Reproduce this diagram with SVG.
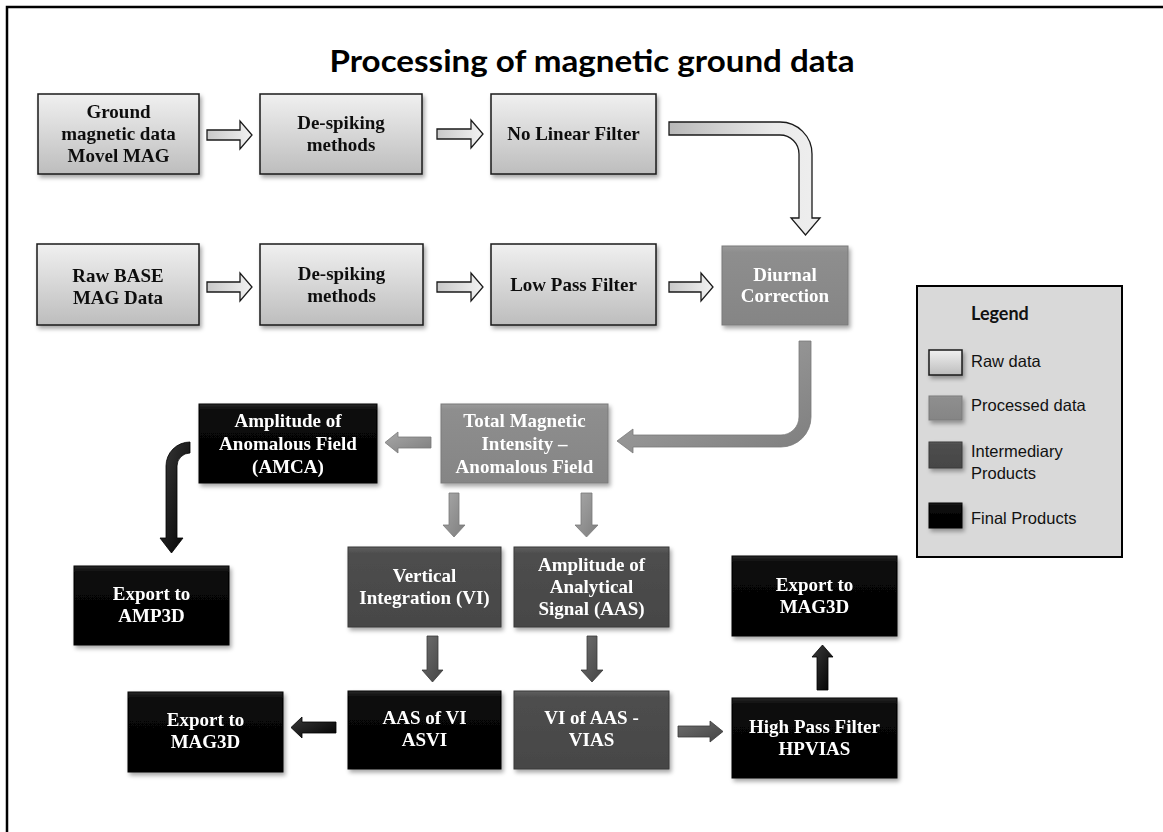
<svg xmlns="http://www.w3.org/2000/svg" width="1163" height="832" viewBox="0 0 1163 832">
<defs>
<linearGradient id="gRaw" x1="0" y1="0" x2="0" y2="1"><stop offset="0" stop-color="#f0f0f0"/><stop offset="1" stop-color="#bdbdbd"/></linearGradient>
<linearGradient id="gProc" x1="0" y1="0" x2="0" y2="1"><stop offset="0" stop-color="#9a9a9a"/><stop offset="0.08" stop-color="#8e8e8e"/><stop offset="1" stop-color="#858585"/></linearGradient>
<linearGradient id="gInter" x1="0" y1="0" x2="0" y2="1"><stop offset="0" stop-color="#606060"/><stop offset="0.08" stop-color="#4e4e4e"/><stop offset="1" stop-color="#464646"/></linearGradient>
<linearGradient id="gFin" x1="0" y1="0" x2="0" y2="1"><stop offset="0" stop-color="#2a2a2a"/><stop offset="0.08" stop-color="#0a0a0a"/><stop offset="1" stop-color="#000"/></linearGradient>
<linearGradient id="gArrRaw" x1="0" y1="0" x2="1" y2="0"><stop offset="0" stop-color="#c8c8c8"/><stop offset="1" stop-color="#f2f2f2"/></linearGradient>
<linearGradient id="gCurve1" x1="0" y1="0" x2="1" y2="0"><stop offset="0" stop-color="#b8b8b8"/><stop offset="0.7" stop-color="#eaeaea"/><stop offset="1" stop-color="#eeeeee"/></linearGradient>
<linearGradient id="gArrProc" x1="0" y1="0" x2="1" y2="1"><stop offset="0" stop-color="#a8a8a8"/><stop offset="1" stop-color="#7e7e7e"/></linearGradient>
<linearGradient id="gArrInter" x1="0" y1="0" x2="1" y2="1"><stop offset="0" stop-color="#6e6e6e"/><stop offset="1" stop-color="#444"/></linearGradient>
<linearGradient id="gArrFin" x1="0" y1="0" x2="1" y2="1"><stop offset="0" stop-color="#3a3a3a"/><stop offset="1" stop-color="#000"/></linearGradient>
<filter id="sh" x="-10%" y="-10%" width="130%" height="140%"><feDropShadow dx="2" dy="3" stdDeviation="2" flood-color="#000" flood-opacity="0.35"/></filter>
</defs>
<style>
.raw{fill:url(#gRaw);stroke:#1a1a1a;stroke-width:1.5}
.proc{fill:url(#gProc);stroke:#7a7a7a;stroke-width:1}
.inter{fill:url(#gInter);stroke:#3a3a3a;stroke-width:1}
.fin{fill:url(#gFin);stroke:#000;stroke-width:1}
.t{font-family:"Liberation Serif","Times New Roman",serif;font-weight:bold;font-size:19px;text-anchor:middle}
.tb{fill:#111}
.tw{fill:#fff}
.aRaw{fill:url(#gArrRaw);stroke:#1a1a1a;stroke-width:1.3;stroke-linejoin:miter}
.aProc{fill:url(#gArrProc);stroke:#7a7a7a;stroke-width:0.8}
.aInter{fill:url(#gArrInter);stroke:#3a3a3a;stroke-width:0.8}
.aFin{fill:url(#gArrFin);stroke:#000;stroke-width:0.8}
.lg{font-family:"Liberation Sans",Arial,sans-serif;font-size:16.5px;fill:#111}
</style>
<rect width="1163" height="832" fill="#fff"/>
<path d="M7,832 L7,7 L1163,7" fill="none" stroke="#000" stroke-width="2.5"/>
<text x="592" y="72" font-family="Lato, 'Liberation Sans', Arial, sans-serif" font-weight="bold" font-size="30" text-anchor="middle" textLength="525" lengthAdjust="spacingAndGlyphs" fill="#000">Processing of magnetic ground data</text>

<g id="connectors">
<path class="aRaw" d="M207,130 L240,130 L240,121 L252,135 L240,149 L240,140 L207,140 Z"/>
<path class="aRaw" d="M437,129 L471,129 L471,120 L483,134 L471,148 L471,139 L437,139 Z"/>
<path class="aRaw" d="M207,282 L240,282 L240,273 L252,287 L240,301 L240,292 L207,292 Z"/>
<path class="aRaw" d="M437,282 L471,282 L471,273 L483,287 L471,301 L471,292 L437,292 Z"/>
<path class="aRaw" d="M669,282 L701,282 L701,273 L713,287 L701,301 L701,292 L669,292 Z"/>
<path fill="url(#gCurve1)" stroke="#1a1a1a" stroke-width="1.3" d="M669,122 L780,122 A32,32 0 0 1 812,154 L812,218 L820,218 L805.5,235 L791,218 L799,218 L799,154 A19,19 0 0 0 780,135 L669,135 Z"/>
<path class="aProc" d="M799,341 L811,341 L811,417 A30,30 0 0 1 781,447 L633,447 L633,453 L617,441 L633,429 L633,435 L781,435 A18,18 0 0 0 799,417 Z"/>
<path class="aProc" d="M431,437 L398,437 L398,432 L385,442.5 L398,453 L398,448 L431,448 Z"/>
<path class="aProc" d="M449,493 L459,493 L459,525 L465,525 L454,537 L443,525 L449,525 Z"/>
<path class="aProc" d="M581,493 L592,493 L592,525 L598,525 L586.5,537 L575,525 L581,525 Z"/>
<path class="aFin" d="M190,442 A24,24 0 0 0 166,466 L166,538 L160,538 L171.5,553 L183,538 L177,538 L177,466 A13,13 0 0 1 190,453 Z"/>
<path class="aInter" d="M427,636 L438,636 L438,670 L443,670 L432.5,682 L422,670 L427,670 Z"/>
<path class="aInter" d="M587,636 L597,636 L597,670 L603,670 L592,682 L581,670 L587,670 Z"/>
<path class="aInter" d="M678,726 L710,726 L710,721 L723,731.5 L710,742 L710,737 L678,737 Z"/>
<path class="aFin" d="M336,722 L302,722 L302,717 L291,727.5 L302,738 L302,733 L336,733 Z"/>
<path class="aFin" d="M817,690 L817,657 L812,657 L822.5,645 L833,657 L828,657 L828,690 Z"/>
</g>

<g id="n-ground" filter="url(#sh)"><rect class="raw" x="38" y="94" width="161" height="80"/>
<text class="t tb" x="118.5" y="118">Ground</text><text class="t tb" x="118.5" y="140">magnetic data</text><text class="t tb" x="118.5" y="162">Movel MAG</text></g>
<g id="n-despike1" filter="url(#sh)"><rect class="raw" x="260" y="94" width="162" height="80"/>
<text class="t tb" x="341" y="129">De-spiking</text><text class="t tb" x="341" y="151">methods</text></g>
<g id="n-nolinear" filter="url(#sh)"><rect class="raw" x="491" y="94" width="165" height="80"/>
<text class="t tb" x="573.5" y="140">No Linear Filter</text></g>
<g id="n-rawbase" filter="url(#sh)"><rect class="raw" x="37" y="244" width="162" height="81"/>
<text class="t tb" x="118" y="282">Raw BASE</text><text class="t tb" x="118" y="304">MAG Data</text></g>
<g id="n-despike2" filter="url(#sh)"><rect class="raw" x="260" y="244" width="163" height="81"/>
<text class="t tb" x="341.5" y="280">De-spiking</text><text class="t tb" x="341.5" y="302">methods</text></g>
<g id="n-lowpass" filter="url(#sh)"><rect class="raw" x="491" y="244" width="165" height="81"/>
<text class="t tb" x="573.5" y="291">Low Pass Filter</text></g>
<g id="n-diurnal" filter="url(#sh)"><rect class="proc" x="722" y="246" width="126" height="79"/>
<text class="t tw" x="785" y="281">Diurnal</text><text class="t tw" x="785" y="302">Correction</text></g>
<g id="n-amca" filter="url(#sh)"><rect class="fin" x="199" y="404" width="178" height="79"/>
<text class="t tw" x="288" y="427">Amplitude of</text><text class="t tw" x="288" y="450">Anomalous Field</text><text class="t tw" x="288" y="473">(AMCA)</text></g>
<g id="n-tmi" filter="url(#sh)"><rect class="proc" x="441" y="404" width="167" height="79"/>
<text class="t tw" x="524.5" y="427">Total Magnetic</text><text class="t tw" x="524.5" y="450">Intensity –</text><text class="t tw" x="524.5" y="473">Anomalous Field</text></g>
<g id="n-amp3d" filter="url(#sh)"><rect class="fin" x="74" y="566" width="155" height="79"/>
<text class="t tw" x="151.5" y="600">Export to</text><text class="t tw" x="151.5" y="622">AMP3D</text></g>
<g id="n-vi" filter="url(#sh)"><rect class="inter" x="348" y="547" width="153" height="80"/>
<text class="t tw" x="424.5" y="582">Vertical</text><text class="t tw" x="424.5" y="604">Integration (VI)</text></g>
<g id="n-aas" filter="url(#sh)"><rect class="inter" x="514" y="547" width="155" height="80"/>
<text class="t tw" x="591.5" y="571">Amplitude of</text><text class="t tw" x="591.5" y="593">Analytical</text><text class="t tw" x="591.5" y="615">Signal (AAS)</text></g>
<g id="n-mag3d-right" filter="url(#sh)"><rect class="fin" x="732" y="556" width="165" height="80"/>
<text class="t tw" x="814.5" y="591">Export to</text><text class="t tw" x="814.5" y="613">MAG3D</text></g>
<g id="n-mag3d-left" filter="url(#sh)"><rect class="fin" x="128" y="692" width="155" height="80"/>
<text class="t tw" x="205.5" y="726">Export to</text><text class="t tw" x="205.5" y="748">MAG3D</text></g>
<g id="n-asvi" filter="url(#sh)"><rect class="fin" x="348" y="691" width="153" height="78"/>
<text class="t tw" x="424.5" y="724">AAS of VI</text><text class="t tw" x="424.5" y="746">ASVI</text></g>
<g id="n-vias" filter="url(#sh)"><rect class="inter" x="514" y="691" width="155" height="78"/>
<text class="t tw" x="591.5" y="724">VI of AAS -</text><text class="t tw" x="591.5" y="746">VIAS</text></g>
<g id="n-hpvias" filter="url(#sh)"><rect class="fin" x="732" y="698" width="165" height="80"/>
<text class="t tw" x="814.5" y="733">High Pass Filter</text><text class="t tw" x="814.5" y="755">HPVIAS</text></g>

<g id="legend">
<rect x="917" y="286" width="205" height="271" fill="#d9d9d9" stroke="#000" stroke-width="2"/>
<text x="971" y="320" font-family="Lato, 'Liberation Sans', Arial, sans-serif" font-weight="bold" font-size="18" fill="#111">Legend</text>
<rect class="raw" x="929" y="350" width="33" height="25" filter="url(#sh)"/>
<text class="lg" x="971" y="367">Raw data</text>
<rect class="proc" x="929" y="396" width="33" height="24" filter="url(#sh)"/>
<text class="lg" x="971" y="411">Processed data</text>
<rect class="inter" x="929" y="442" width="33" height="26" filter="url(#sh)"/>
<text class="lg" x="971" y="457">Intermediary</text>
<text class="lg" x="971" y="479">Products</text>
<rect class="fin" x="929" y="503" width="33" height="25" filter="url(#sh)"/>
<text class="lg" x="971" y="524">Final Products</text>
</g>
</svg>
